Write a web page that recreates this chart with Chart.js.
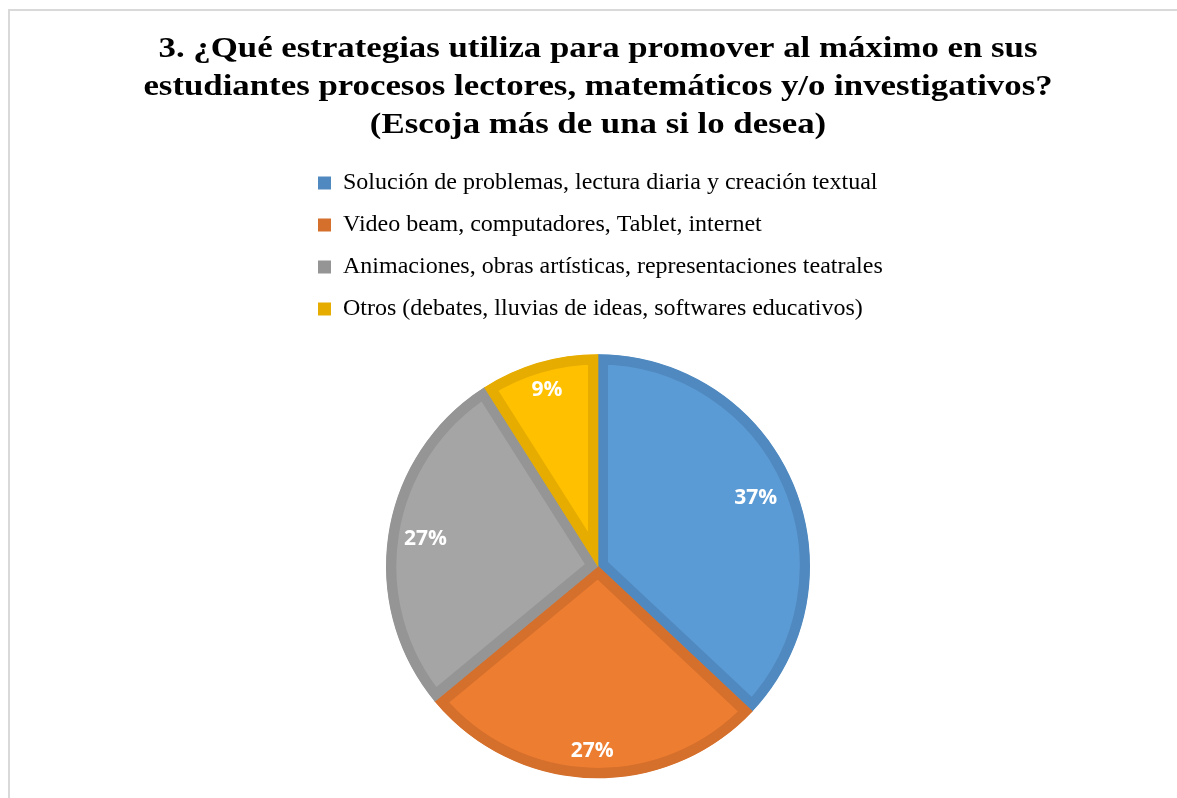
<!DOCTYPE html>
<html>
<head>
<meta charset="utf-8">
<script src="https://cdn.jsdelivr.net/npm/chart.js@4.4.0/dist/chart.umd.min.js"></script>
<style>
  html, body { margin: 0; padding: 0; background: #ffffff; overflow: hidden; }
  body { width: 1177px; height: 798px; position: relative; }
  #frame { position: absolute; left: 8px; top: 9px; width: 1200px; height: 820px;
           border-left: 2px solid #d9d9d9; border-top: 2px solid #d9d9d9; }
  #wrap { position: absolute; left: 10px; top: 10px; width: 1176px; height: 800px; }
</style>
</head>
<body>
<div id="frame"></div>
<div id="wrap"><canvas id="c"></canvas></div>
<script>
const titleLines = [
  "3. ¿Qué estrategias utiliza para promover al máximo en sus",
  "estudiantes procesos lectores, matemáticos y/o investigativos?",
  "(Escoja más de una si lo desea)"
];
const categories = [
  "Solución de problemas, lectura diaria y creación textual",
  "Video beam, computadores, Tablet, internet",
  "Animaciones, obras artísticas, representaciones teatrales",
  "Otros (debates, lluvias de ideas, softwares educativos)"
];
const percentValues = [37, 27, 27, 9];

const fillColors = ["#5B9BD5", "#ED7D31", "#A5A5A5", "#FFC000"];
const edgeColors = ["#5089BF", "#D46F2C", "#959595", "#E6AC00"];

// Full-width multi-line title (drawn across the whole canvas width)
const wideTitle = {
  id: "wideTitle",
  afterDraw(chart, args, opts) {
    const ctx = chart.ctx;
    const cx = chart.width / 2;
    ctx.save();
    ctx.font = opts.font;
    ctx.fillStyle = opts.color;
    ctx.textAlign = "center";
    ctx.textBaseline = "middle";
    opts.lines.forEach((line, i) => {
      ctx.save();
      ctx.translate(cx, opts.top + i * opts.lineHeight);
      ctx.scale(opts.scaleX, 1);
      ctx.fillText(line, 0, 0);
      ctx.restore();
    });
    ctx.restore();
  }
};

const pieLabels = {
  id: "pieLabels",
  afterDatasetsDraw(chart, args, opts) {
    const ctx = chart.ctx;
    const meta = chart.getDatasetMeta(0);
    const data = chart.data.datasets[0].data;
    const total = data.reduce((a, b) => a + b, 0);
    ctx.save();
    ctx.font = "bold 21px 'Open Sans', sans-serif";
    ctx.fillStyle = "#ffffff";
    ctx.textAlign = "center";
    ctx.textBaseline = "middle";
    meta.data.forEach((arc, i) => {
      const p = arc.getProps(["x", "y", "startAngle", "endAngle", "outerRadius"], true);
      const mid = (p.startAngle + p.endAngle) / 2;
      const r = p.outerRadius * opts.radii[i];
      const txt = Math.round(data[i] / total * 100) + "%";
      ctx.fillText(txt, p.x + Math.cos(mid) * r, p.y + Math.sin(mid) * r);
    });
    ctx.restore();
  }
};

new Chart(document.getElementById("c"), {
  type: "pie",
  data: {
    labels: categories,
    datasets: [{
      data: percentValues,
      backgroundColor: fillColors,
      borderColor: edgeColors,
      borderWidth: 10,
      borderAlign: "inner",
      borderJoinStyle: "miter",
      hoverOffset: 0
    }]
  },
  options: {
    responsive: true,
    maintainAspectRatio: false,
    animation: false,
    radius: 212,
    layout: { padding: { left: 290, right: 290, top: 143, bottom: 8.5 } },
    plugins: {
      title: { display: false },
      legend: {
        display: true,
        position: "top",
        align: "start",
        labels: {
          color: "#000000",
          font: { family: "'Liberation Serif', 'Times New Roman', serif", size: 24 },
          boxWidth: 13,
          boxHeight: 13,
          padding: 18,
          generateLabels(chart) {
            return chart.data.labels.map((l, i) => ({
              text: l, fillStyle: edgeColors[i], strokeStyle: edgeColors[i], lineWidth: 0, index: i, hidden: false
            }));
          }
        }
      },
      tooltip: { enabled: false },
      wideTitle: {
        lines: titleLines,
        font: "bold 29px 'Liberation Serif', 'Times New Roman', serif",
        color: "#000000",
        top: 40,
        lineHeight: 38,
        scaleX: 1.2
      },
      pieLabels: { radii: [0.81, 0.873, 0.824, 0.865] }
    }
  },
  plugins: [wideTitle, pieLabels]
});
</script>
</body>
</html>
